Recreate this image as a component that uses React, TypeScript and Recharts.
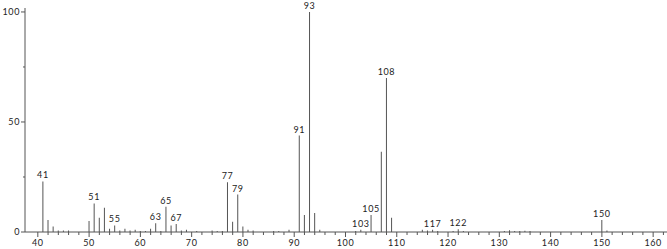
import React from "react";
import { BarChart, Bar, XAxis, YAxis, LabelList } from "recharts";

const mzValues = [41, 42, 43, 44, 45, 46, 50, 51, 52, 53, 54, 55, 56, 57, 58, 59, 60, 61, 62, 63, 64, 65, 66, 67, 68, 69, 71, 74, 75, 76, 77, 78, 79, 80, 81, 82, 86, 87, 89, 91, 92, 93, 94, 95, 102, 103, 105, 107, 108, 109, 115, 116, 117, 118, 121, 122, 123, 131, 132, 133, 134, 135, 136, 150, 151];
const intensities = [23, 5.5, 2.5, 0.7, 0.7, 0.7, 5, 13, 6.5, 11, 1.5, 3, 0.7, 1.5, 0.7, 1, 0.5, 0.5, 1.5, 4, 0.5, 11.5, 3, 3.6, 0.7, 1, 0.5, 0.7, 0.5, 0.5, 22.6, 4.7, 17, 2.5, 1, 0.7, 0.5, 0.5, 1, 43.8, 7.7, 100, 8.6, 1, 0.5, 1, 7.7, 36.5, 70, 6.5, 1, 0.7, 1, 0.5, 0.5, 1.2, 0.5, 0.5, 0.8, 0.5, 0.5, 0.6, 0.5, 5.5, 0.7];
const labeledPeaks = [41, 51, 55, 63, 65, 67, 77, 79, 91, 93, 103, 105, 108, 117, 122, 150];
const xTicks = Array.from({ length: 62 }, (_, i) => 40 + i * 2);
const yTicks = [0, 25, 50, 75, 100];

const data = mzValues.map((mz, i) => ({ mz, value: intensities[i] }));

const FONT = "Lato, 'DejaVu Sans', sans-serif";
const AXIS_COLOR = "#555";

const XTick = (props: any) => {
  const { x, y, payload } = props;
  const v = payload.value;
  const major = v % 10 === 0;
  return (
    <g>
      <line x1={x} x2={x} y1={y} y2={y + (major ? 5 : 3)} stroke={AXIS_COLOR} strokeWidth={1} />
      {major && (
        <text x={x} y={y + 14} textAnchor="middle" fontSize={9} fontFamily={FONT} fill="#222" letterSpacing={0.6}>
          {v}
        </text>
      )}
    </g>
  );
};

const YTick = (props: any) => {
  const { x, y, payload } = props;
  const v = payload.value;
  const major = v % 50 === 0;
  return (
    <g>
      <line x1={x - (major ? 4 : 2)} x2={x} y1={y} y2={y} stroke={AXIS_COLOR} strokeWidth={1} />
      {major && (
        <text x={x - 5} y={y + 3} textAnchor="end" fontSize={9} fontFamily={FONT} fill="#222" letterSpacing={0.6}>
          {v}
        </text>
      )}
    </g>
  );
};

const PeakLabel = (props: any) => {
  const { x, y, width, value } = props;
  if (!labeledPeaks.includes(value)) return null;
  return (
    <text x={x + width / 2} y={y - 3} textAnchor="middle" fontSize={9} fontFamily={FONT} fill="#222" letterSpacing={0.6}>
      {value}
    </text>
  );
};

export default function App() {
  return (
    <div style={{ position: "absolute", left: 0, top: 0, background: "#fff" }}>
      <BarChart width={667} height={249} data={data} margin={{ top: 8, right: 0, bottom: 0, left: 0 }}>
        <XAxis
          dataKey="mz"
          type="number"
          domain={[37.5, 162.7]}
          ticks={xTicks}
          interval={0}
          tick={<XTick />}
          tickLine={false}
          tickSize={0}
          tickMargin={0}
          axisLine={{ stroke: AXIS_COLOR }}
          height={17}
          allowDataOverflow
        />
        <YAxis
          type="number"
          domain={[0, 101.8]}
          ticks={yTicks}
          interval={0}
          tick={<YTick />}
          tickLine={false}
          tickSize={0}
          tickMargin={0}
          axisLine={{ stroke: AXIS_COLOR }}
          width={25}
          allowDataOverflow
        />
        <Bar dataKey="value" fill="#555" barSize={1} isAnimationActive={false}>
          <LabelList dataKey="mz" content={<PeakLabel />} />
        </Bar>
      </BarChart>
    </div>
  );
}
